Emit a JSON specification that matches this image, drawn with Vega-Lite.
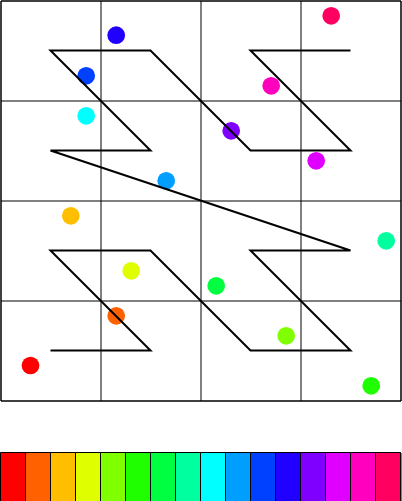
{
  "$schema": "https://vega.github.io/schema/vega-lite/v6.json",
  "padding": {"left": -0.5, "top": -0.5, "right": 0, "bottom": 0},
  "spacing": 50,
  "config": {"view": {"stroke": "black", "strokeWidth": 1}},
  "data": {"values": [
    {"i": 0, "cx": 0.5, "cy": 0.5, "dx": 0.30, "dy": 0.35},
    {"i": 1, "cx": 1.5, "cy": 0.5, "dx": 1.157, "dy": 0.847},
    {"i": 2, "cx": 0.5, "cy": 1.5, "dx": 0.703, "dy": 1.847},
    {"i": 3, "cx": 1.5, "cy": 1.5, "dx": 1.307, "dy": 1.297},
    {"i": 4, "cx": 2.5, "cy": 0.5, "dx": 2.857, "dy": 0.647},
    {"i": 5, "cx": 3.5, "cy": 0.5, "dx": 3.707, "dy": 0.147},
    {"i": 6, "cx": 2.5, "cy": 1.5, "dx": 2.157, "dy": 1.147},
    {"i": 7, "cx": 3.5, "cy": 1.5, "dx": 3.857, "dy": 1.597},
    {"i": 8, "cx": 0.5, "cy": 2.5, "dx": 0.857, "dy": 2.847},
    {"i": 9, "cx": 1.5, "cy": 2.5, "dx": 1.657, "dy": 2.197},
    {"i": 10, "cx": 0.5, "cy": 3.5, "dx": 0.857, "dy": 3.247},
    {"i": 11, "cx": 1.5, "cy": 3.5, "dx": 1.157, "dy": 3.653},
    {"i": 12, "cx": 2.5, "cy": 2.5, "dx": 2.307, "dy": 2.697},
    {"i": 13, "cx": 3.5, "cy": 2.5, "dx": 3.157, "dy": 2.397},
    {"i": 14, "cx": 2.5, "cy": 3.5, "dx": 2.707, "dy": 3.147},
    {"i": 15, "cx": 3.5, "cy": 3.5, "dx": 3.307, "dy": 3.847}
  ]},
  "vconcat": [
    {
      "width": 400,
      "height": 400,
      "layer": [
        {
          "mark": {"type": "circle", "size": 314, "opacity": 1},
          "encoding": {
            "x": {"field": "dx", "type": "quantitative", "scale": {"domain": [0, 4], "nice": false, "zero": false},
                  "axis": {"title": null, "labels": false, "ticks": false, "domain": false, "grid": true, "gridColor": "black", "gridOpacity": 1, "gridWidth": 1, "values": [0, 1, 2, 3, 4]}},
            "y": {"field": "dy", "type": "quantitative", "scale": {"domain": [0, 4], "nice": false, "zero": false},
                  "axis": {"title": null, "labels": false, "ticks": false, "domain": false, "grid": true, "gridColor": "black", "gridOpacity": 1, "gridWidth": 1, "values": [0, 1, 2, 3, 4]}},
            "color": {"field": "i", "type": "ordinal",
                      "scale": {"domain": [0,1,2,3,4,5,6,7,8,9,10,11,12,13,14,15],
                                "range": ["#ff0000","#ff6000","#ffbf00","#dfff00","#80ff00","#20ff00","#00ff40","#00ff9f","#00ffff","#009fff","#0040ff","#2000ff","#8000ff","#df00ff","#ff00bf","#ff0060"]},
                      "legend": null}
          }
        },
        {
          "mark": {"type": "line", "color": "black", "strokeWidth": 2},
          "encoding": {
            "x": {"field": "cx", "type": "quantitative"},
            "y": {"field": "cy", "type": "quantitative"},
            "order": {"field": "i", "type": "quantitative"}
          }
        }
      ]
    },
    {
      "width": 400,
      "height": 50,
      "mark": {"type": "rect", "stroke": "black", "strokeWidth": 1},
      "encoding": {
        "x": {"field": "i", "type": "ordinal", "scale": {"paddingInner": 0, "paddingOuter": 0}, "axis": null},
        "color": {"field": "i", "type": "ordinal", "legend": null}
      }
    }
  ]
}
